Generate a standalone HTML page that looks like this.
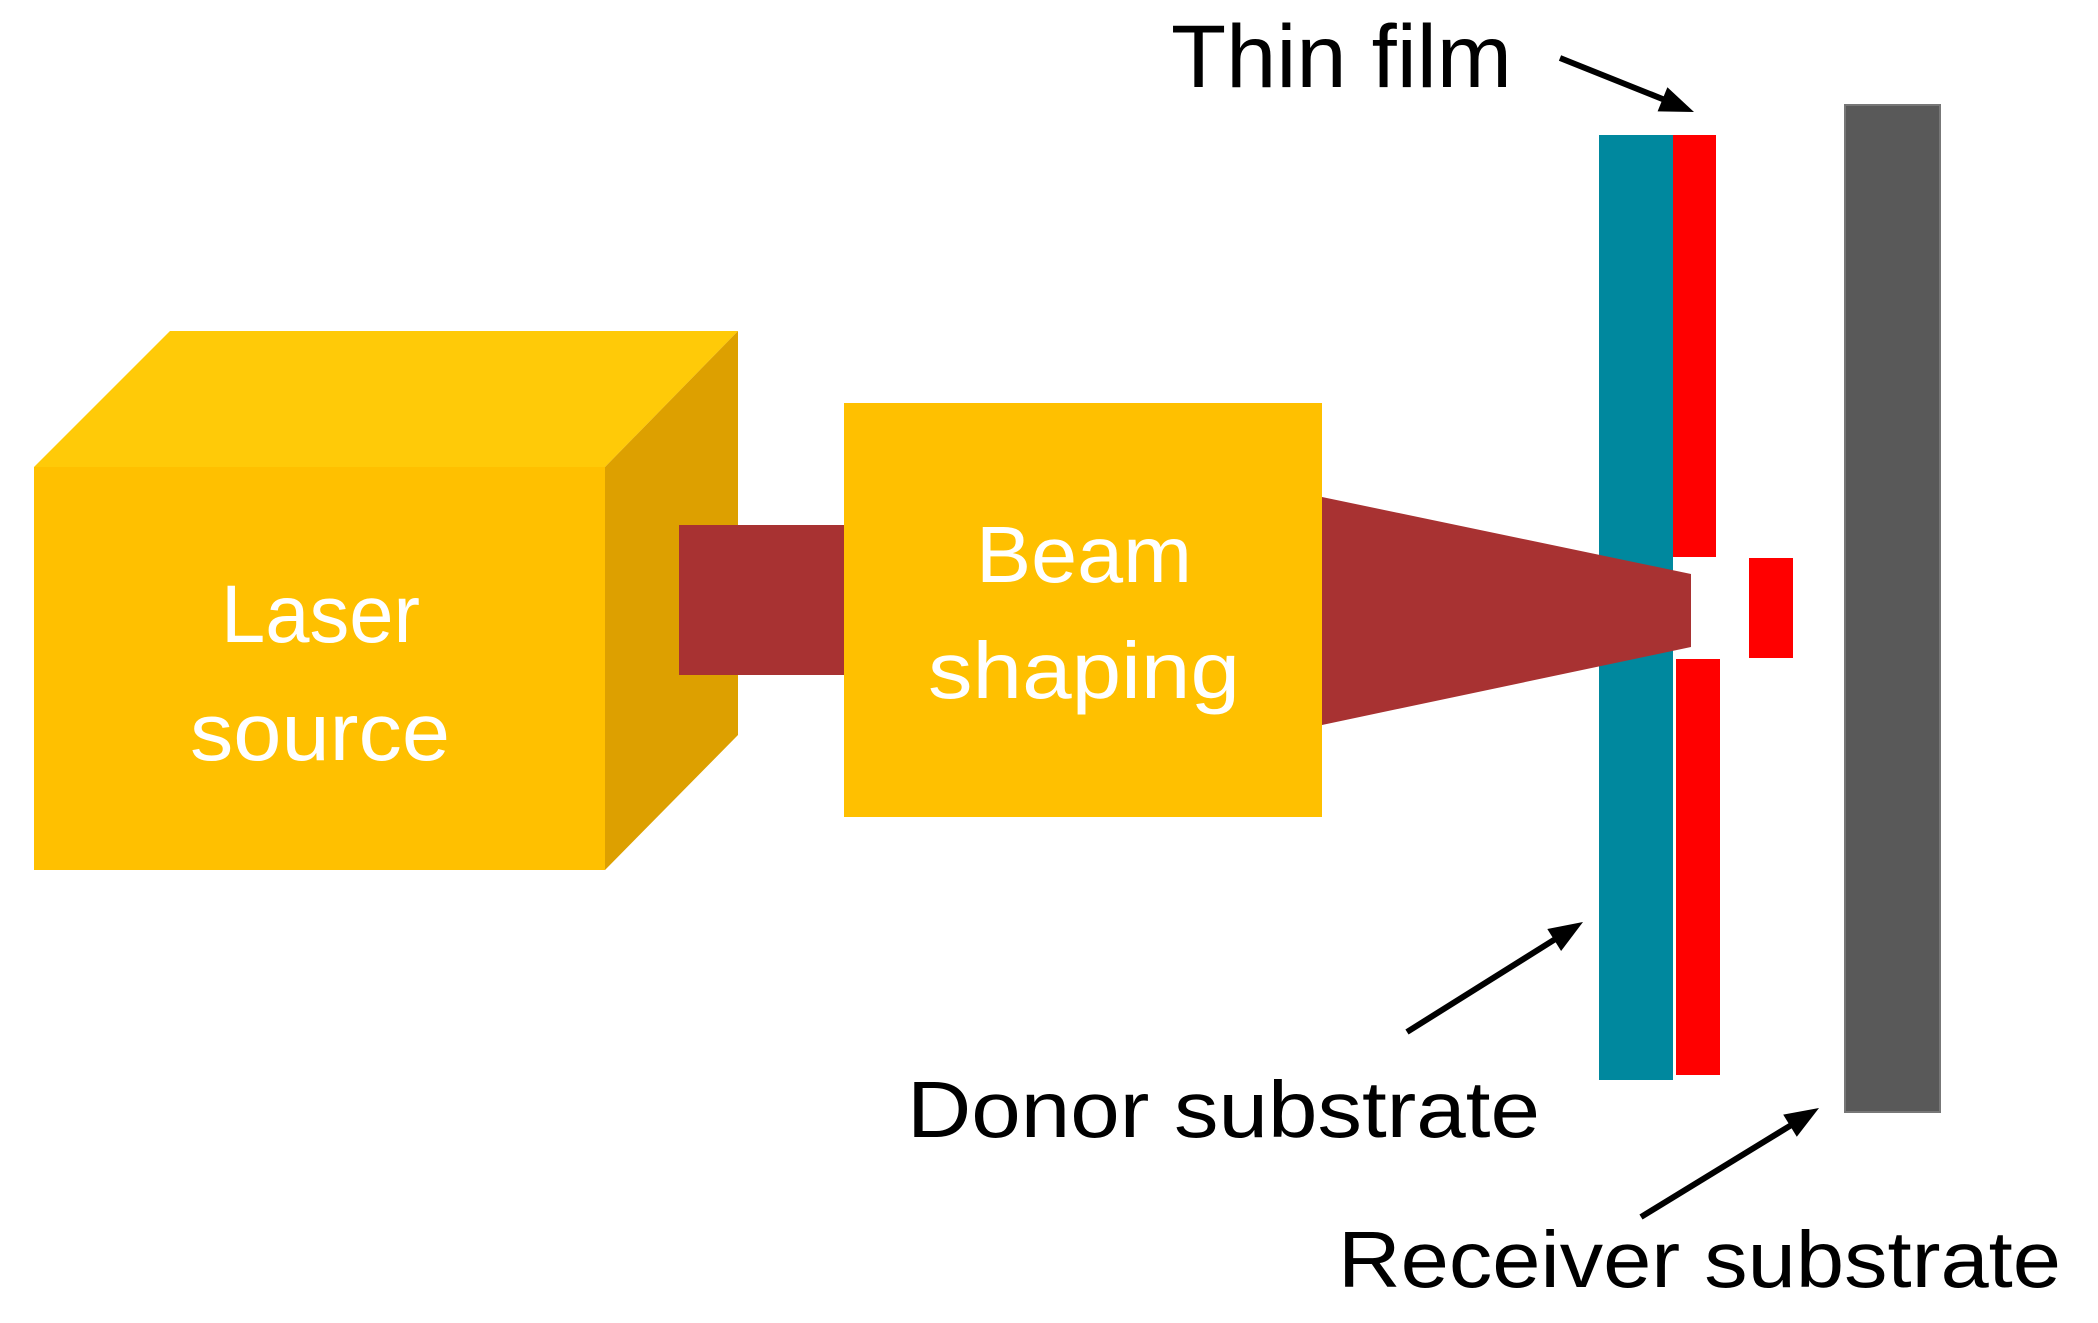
<!DOCTYPE html>
<html><head><meta charset="utf-8"><style>html,body{margin:0;padding:0;background:#fff}svg{display:block}</style></head>
<body>
<svg width="2098" height="1323" viewBox="0 0 2098 1323" xmlns="http://www.w3.org/2000/svg">
<!-- cube -->
<polygon points="34,467 170,331 738,331 605,467" fill="#FFCA08"/>
<polygon points="605,467 738,331 738,735 605,870" fill="#DDA000"/>
<rect x="34" y="467" width="571" height="403" fill="#FFC000"/>
<!-- beam -->
<rect x="679" y="525" width="170" height="150" fill="#A83232"/>
<rect x="844" y="403" width="478" height="414" fill="#FFC000"/>
<!-- substrates -->
<rect x="1599" y="135" width="74" height="945" fill="#00889E"/>
<rect x="1673" y="135" width="43" height="422" fill="#FF0000"/>
<rect x="1676" y="659" width="44" height="416" fill="#FF0000"/>
<polygon points="1322,497 1691,574 1691,647 1322,725" fill="#A83232"/>
<rect x="1749" y="558" width="44" height="100" fill="#FF0000"/>
<rect x="1845" y="105" width="95" height="1007" fill="#595959" stroke="#777" stroke-width="2"/>
<!-- arrows -->
<line x1="1560" y1="58" x2="1665" y2="100" stroke="#000" stroke-width="6"/>
<polygon points="1694,112 1657.6,111.4 1667.4,87.2" fill="#000"/>
<line x1="1407" y1="1032" x2="1557" y2="938" stroke="#000" stroke-width="6"/>
<polygon points="1583,922 1561.1,951 1547.3,929" fill="#000"/>
<line x1="1641" y1="1217" x2="1793" y2="1124" stroke="#000" stroke-width="6"/>
<polygon points="1819,1108 1796.8,1136.8 1783.2,1114.6" fill="#000"/>
<!-- text -->
<g font-family="'Liberation Sans', 'DejaVu Sans', sans-serif">
<text x="221" y="642" font-size="82" fill="#fff" textLength="199" lengthAdjust="spacingAndGlyphs">Laser</text>
<text x="190" y="760" font-size="82" fill="#fff" textLength="260" lengthAdjust="spacingAndGlyphs">source</text>
<text x="976" y="582" font-size="80" fill="#fff" textLength="216" lengthAdjust="spacingAndGlyphs">Beam</text>
<text x="928" y="698" font-size="80" fill="#fff" textLength="312" lengthAdjust="spacingAndGlyphs">shaping</text>
<text x="1171" y="87" font-size="89" fill="#000" textLength="341" lengthAdjust="spacingAndGlyphs">Thin film</text>
<text x="907" y="1137" font-size="80" fill="#000" textLength="633" lengthAdjust="spacingAndGlyphs">Donor substrate</text>
<text x="1338" y="1287" font-size="80" fill="#000" textLength="723" lengthAdjust="spacingAndGlyphs">Receiver substrate</text>
</g>
</svg>
</body></html>
